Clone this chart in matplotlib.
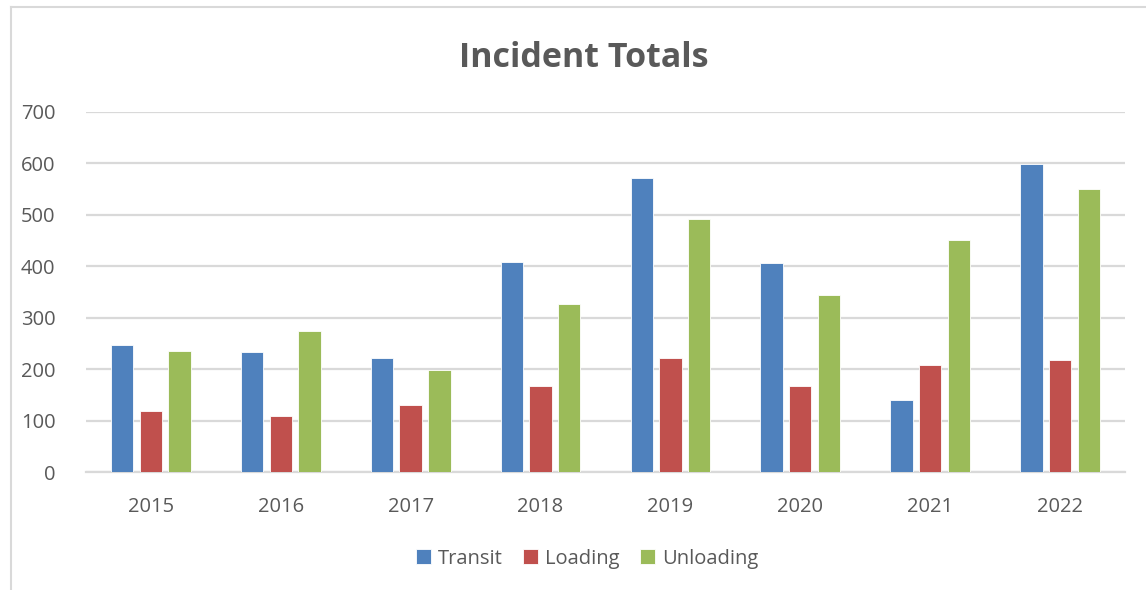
import numpy as np
import matplotlib
matplotlib.use('Agg')
import matplotlib.pyplot as plt
from matplotlib.lines import Line2D

plt.rcParams['font.family'] = ['Open Sans', 'DejaVu Sans']

# Data
years = ['2015', '2016', '2017', '2018', '2019', '2020', '2021', '2022']
transit = [246, 233, 221, 409, 571, 406, 140, 599]
loading = [118, 108, 130, 167, 222, 168, 209, 217]
unloading = [235, 275, 198, 327, 491, 344, 452, 551]

series = ['Transit', 'Loading', 'Unloading']
colors = ['#4f81bd', '#c0504d', '#9bbb59']
grey = '#595959'
grid_col = '#d9d9d9'

fig = plt.figure(figsize=(11.46, 5.90), dpi=100)
ax = fig.add_axes([0.075, 0.2, 0.9067, 0.6102])

x = np.arange(len(years))
step = 0.221
width = 0.172
for i, (vals, name, col) in enumerate(zip([transit, loading, unloading], series, colors)):
    ax.bar(x + (i - 1) * step, vals, width=width, color=col, label=name,
           edgecolor='white', linewidth=0.6, zorder=3)

ax.set_xlim(-0.5, len(years) - 0.5)
ax.set_ylim(0, 700)
ax.set_yticks(range(0, 701, 100))
ax.set_xticks(x)
ax.set_xticklabels(years)
ax.tick_params(axis='both', length=0, labelsize=14.5, colors=grey)
ax.tick_params(axis='y', pad=22)
ax.tick_params(axis='x', pad=18)
ax.grid(axis='y', color=grid_col, linewidth=1.6, zorder=0)
for s in ['top', 'right', 'left']:
    ax.spines[s].set_visible(False)
ax.spines['bottom'].set_color(grid_col)
ax.spines['bottom'].set_linewidth(1.6)

fig.text(0.509, 0.902, 'Incident Totals', ha='center', va='center',
         fontsize=24.5, fontweight='bold', color=grey)

leg = fig.legend(loc='center', bbox_to_anchor=(0.512, 0.053), ncol=3, frameon=False,
                 fontsize=14.5, handlelength=0.75, handleheight=0.75,
                 handletextpad=0.35, columnspacing=1.0)
for t in leg.get_texts():
    t.set_color(grey)

# chart frame (partly cut off in the screenshot)
fig.add_artist(Line2D([11 / 1146, 11 / 1146], [0, 1 - 7 / 590], color=grid_col, lw=1.5))
fig.add_artist(Line2D([11 / 1146, 1], [1 - 7 / 590, 1 - 7 / 590], color=grid_col, lw=1.5))

fig.savefig('out.png', dpi=100)
